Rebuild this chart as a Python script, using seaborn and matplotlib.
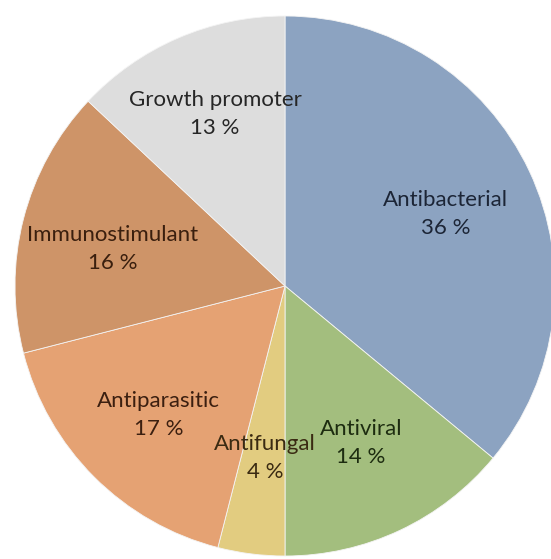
import matplotlib
matplotlib.use("Agg")
import matplotlib.pyplot as plt
import seaborn as sns

categories = ["Antibacterial", "Antiviral", "Antifungal", "Antiparasitic",
              "Immunostimulant", "Growth promoter"]
shares = [36, 14, 4, 17, 16, 13]
slice_colors = ["#8ca3c1", "#a3be7e", "#e2cc80", "#e5a273", "#ce9468", "#dddddd"]
text_colors = ["#1c2536", "#1d2c10", "#3a2a12", "#3b1f10", "#3a1f0e", "#262626"]
# label anchor points in axes units (pie radius = 1)
label_xy = [(0.596, 0.267), (0.281, -0.581), (-0.074, -0.637),
            (-0.467, -0.478), (-0.637, 0.137), (-0.259, 0.637)]

sns.set_theme(style="white")
plt.rcParams["font.family"] = ["Lato", "DejaVu Sans"]

fig = plt.figure(figsize=(5.51, 5.59), dpi=100)
ax = fig.add_axes([15 / 551, 3 / 559, 540 / 551, 540 / 559])

ax.pie(shares, colors=slice_colors, startangle=90, counterclock=False,
       radius=1.0, wedgeprops=dict(edgecolor="#f4f4f4", linewidth=0.6))

for name, val, (x, y), tc in zip(categories, shares, label_xy, text_colors):
    ax.text(x, y, f"{name}\n{val} %", ha="center", va="center",
            fontsize=16, color=tc, linespacing=1.5)

ax.set_xlim(-1, 1)
ax.set_ylim(-1, 1)
ax.set_aspect("equal")
ax.axis("off")
fig.savefig("out.png", dpi=100, facecolor="white")
